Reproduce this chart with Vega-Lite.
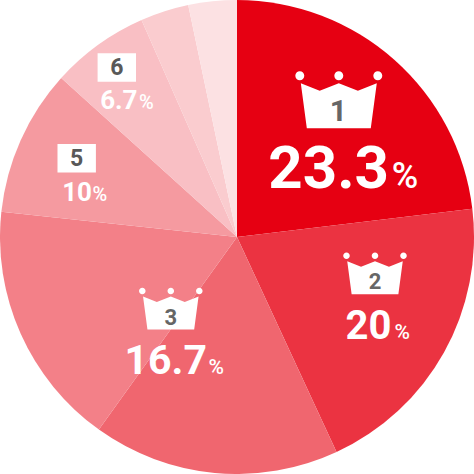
{"$schema":"https://vega.github.io/schema/vega-lite/v6.json","width":474,"height":474,"padding":0,"autosize":{"type":"none"},"background":"white","view":{"stroke":null},
"config":{"text":{"font":"Roboto"}},
"data":{"values":[{"rank":1,"share":23.1,"label":"23.3"},{"rank":2,"share":20,"label":"20"},{"rank":3,"share":16.8,"label":"16.7"},{"rank":4,"share":16.8,"label":""},{"rank":5,"share":10,"label":"10"},{"rank":6,"share":6.7,"label":"6.7"},{"rank":7,"share":3.3,"label":""},{"rank":8,"share":3.3,"label":""}]},
"layer":[
{"mark":{"type":"arc","outerRadius":237,"innerRadius":0},
"encoding":{"theta":{"field":"share","type":"quantitative","stack":true,"scale":{"domain":[0,100]}},"order":{"field":"rank"},"color":{"field":"rank","type":"ordinal","legend":null,"scale":{"domain":[1,2,3,4,5,6,7,8],"range":["#E60012","#EB3341","#F0666F","#F38088","#F59AA0","#F9BFC4","#FACCCF","#FCE1E3"]}}}},
{"transform":[{"filter":"datum.rank==1"}],
"encoding":{"x":{"datum":338.8,"type":"quantitative","scale":{"domain":[0,474],"range":[0,474]},"axis":null},"y":{"datum":100,"type":"quantitative","scale":{"domain":[0,474],"range":[0,474]},"axis":null}},
"layer":[
{"mark":{"type":"point","filled":true,"fill":"white","opacity":1,"size":6084,"shape":"M-0.974,-0.428L-0.49,-0.238L0,-0.428L0.49,-0.238L0.974,-0.428L0.82,0.726L-0.82,0.726Z M-1.115,-0.623a0.115,0.115 0 1,0 0.23,0a0.115,0.115 0 1,0 -0.23,0Z M-0.115,-0.623a0.115,0.115 0 1,0 0.23,0a0.115,0.115 0 1,0 -0.23,0Z M0.885,-0.623a0.115,0.115 0 1,0 0.23,0a0.115,0.115 0 1,0 -0.23,0Z"}},
{"mark":{"type":"text","fontSize":30,"fontWeight":700,"fill":"#666666","align":"center","baseline":"alphabetic","dx":-0.5,"dy":21},"encoding":{"text":{"field":"rank"}}},
{"mark":{"type":"text","fontSize":60,"fontWeight":700,"fill":"white","align":"right","baseline":"alphabetic","dx":50.2,"dy":87.7},"encoding":{"text":{"field":"label"}}},
{"mark":{"type":"text","fontSize":36,"fontWeight":500,"fill":"white","align":"left","baseline":"alphabetic","dx":53,"dy":87.7},"encoding":{"text":{"value":"%"}}}
]},
{"transform":[{"filter":"datum.rank==2"}],
"encoding":{"x":{"datum":375,"type":"quantitative","scale":{"domain":[0,474],"range":[0,474]},"axis":null},"y":{"datum":273.5,"type":"quantitative","scale":{"domain":[0,474],"range":[0,474]},"axis":null}},
"layer":[
{"mark":{"type":"point","filled":true,"fill":"white","opacity":1,"size":3249,"shape":"M-0.974,-0.428L-0.49,-0.238L0,-0.428L0.49,-0.238L0.974,-0.428L0.82,0.726L-0.82,0.726Z M-1.115,-0.623a0.115,0.115 0 1,0 0.23,0a0.115,0.115 0 1,0 -0.23,0Z M-0.115,-0.623a0.115,0.115 0 1,0 0.23,0a0.115,0.115 0 1,0 -0.23,0Z M0.885,-0.623a0.115,0.115 0 1,0 0.23,0a0.115,0.115 0 1,0 -0.23,0Z"}},
{"mark":{"type":"text","fontSize":22,"fontWeight":700,"fill":"#666666","align":"center","baseline":"alphabetic","dy":15},"encoding":{"text":{"field":"rank"}}},
{"mark":{"type":"text","fontSize":40,"fontWeight":700,"fill":"white","align":"right","baseline":"alphabetic","dx":16.5,"dy":65.5},"encoding":{"text":{"field":"label"}}},
{"mark":{"type":"text","fontSize":21,"fontWeight":500,"fill":"white","align":"left","baseline":"alphabetic","dx":19.5,"dy":65.5},"encoding":{"text":{"value":"%"}}}
]},
{"transform":[{"filter":"datum.rank==3"}],
"encoding":{"x":{"datum":170.8,"type":"quantitative","scale":{"domain":[0,474],"range":[0,474]},"axis":null},"y":{"datum":308.8,"type":"quantitative","scale":{"domain":[0,474],"range":[0,474]},"axis":null}},
"layer":[
{"mark":{"type":"point","filled":true,"fill":"white","opacity":1,"size":3249,"shape":"M-0.974,-0.428L-0.49,-0.238L0,-0.428L0.49,-0.238L0.974,-0.428L0.82,0.726L-0.82,0.726Z M-1.115,-0.623a0.115,0.115 0 1,0 0.23,0a0.115,0.115 0 1,0 -0.23,0Z M-0.115,-0.623a0.115,0.115 0 1,0 0.23,0a0.115,0.115 0 1,0 -0.23,0Z M0.885,-0.623a0.115,0.115 0 1,0 0.23,0a0.115,0.115 0 1,0 -0.23,0Z"}},
{"mark":{"type":"text","fontSize":22,"fontWeight":700,"fill":"#666666","align":"center","baseline":"alphabetic","dy":15.7},"encoding":{"text":{"field":"rank"}}},
{"mark":{"type":"text","fontSize":41,"fontWeight":700,"fill":"white","align":"right","baseline":"alphabetic","dx":36.2,"dy":65.2},"encoding":{"text":{"field":"label"}}},
{"mark":{"type":"text","fontSize":21,"fontWeight":500,"fill":"white","align":"left","baseline":"alphabetic","dx":37.7,"dy":65.2},"encoding":{"text":{"value":"%"}}}
]},
{"transform":[{"filter":"datum.rank==5"}],
"encoding":{"x":{"datum":76.7,"type":"quantitative","scale":{"domain":[0,474],"range":[0,474]},"axis":null},"y":{"datum":158.2,"type":"quantitative","scale":{"domain":[0,474],"range":[0,474]},"axis":null}},
"layer":[
{"mark":{"type":"point","filled":true,"fill":"white","opacity":1,"size":1475,"shape":"M-1,-0.74H1V0.74H-1Z"}},
{"mark":{"type":"text","fontSize":23,"fontWeight":700,"fill":"#595959","align":"center","baseline":"alphabetic","dy":8},"encoding":{"text":{"field":"rank"}}},
{"mark":{"type":"text","fontSize":26,"fontWeight":700,"fill":"white","align":"right","baseline":"alphabetic","dx":15.3,"dy":42.5},"encoding":{"text":{"field":"label"}}},
{"mark":{"type":"text","fontSize":20,"fontWeight":500,"fill":"white","align":"left","baseline":"alphabetic","dx":15.8,"dy":42.5},"encoding":{"text":{"value":"%"}}}
]},
{"transform":[{"filter":"datum.rank==6"}],
"encoding":{"x":{"datum":116.8,"type":"quantitative","scale":{"domain":[0,474],"range":[0,474]},"axis":null},"y":{"datum":67.5,"type":"quantitative","scale":{"domain":[0,474],"range":[0,474]},"axis":null}},
"layer":[
{"mark":{"type":"point","filled":true,"fill":"white","opacity":1,"size":1475,"shape":"M-1,-0.74H1V0.74H-1Z"}},
{"mark":{"type":"text","fontSize":23,"fontWeight":700,"fill":"#595959","align":"center","baseline":"alphabetic","dy":7.5},"encoding":{"text":{"field":"rank"}}},
{"mark":{"type":"text","fontSize":26,"fontWeight":700,"fill":"white","align":"right","baseline":"alphabetic","dx":20.7,"dy":41.8},"encoding":{"text":{"field":"label"}}},
{"mark":{"type":"text","fontSize":20,"fontWeight":500,"fill":"white","align":"left","baseline":"alphabetic","dx":22.2,"dy":41.8},"encoding":{"text":{"value":"%"}}}
]}
]}
